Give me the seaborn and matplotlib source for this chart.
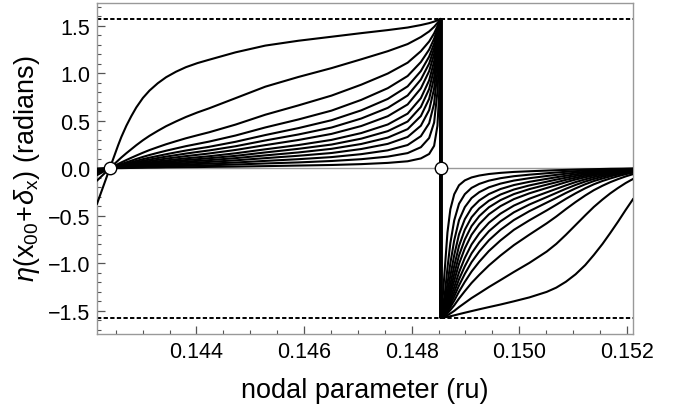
import numpy as np
import pandas as pd
import matplotlib
matplotlib.use('Agg')
import matplotlib.pyplot as plt
import seaborn as sns
from matplotlib.ticker import MultipleLocator

# landmarks
zero_x = 0.14239
pole_x = 0.14854
hp = np.pi / 2

# left branch: shared x grid, one row of eta per curve (top curve first)
left_x = [0.142150, 0.142390, 0.142544, 0.142605, 0.142698, 0.142790, 0.142882, 0.143005,
          0.143128, 0.143282, 0.143436, 0.143620, 0.143805, 0.144020, 0.144235, 0.144727,
          0.145281, 0.145896, 0.146511, 0.147064, 0.147556, 0.147925, 0.148171, 0.148325,
          0.148417, 0.148479, 0.148509, 0.148528, 0.148540]
left_curves = [
    [-0.377, 0, 0.241, 0.330, 0.448, 0.549, 0.640, 0.740, 0.818, 0.895, 0.958, 1.016, 1.064, 1.107, 1.142, 1.220, 1.291, 1.342, 1.384, 1.422, 1.454, 1.481, 1.507, 1.527, 1.543, 1.557, 1.564, 1.568, hp],
    [-0.131, 0, 0.082, 0.114, 0.159, 0.201, 0.243, 0.295, 0.342, 0.394, 0.443, 0.493, 0.540, 0.588, 0.631, 0.738, 0.859, 0.961, 1.054, 1.147, 1.232, 1.307, 1.381, 1.440, 1.488, 1.529, 1.550, 1.563, hp],
    [-0.072, 0, 0.045, 0.062, 0.087, 0.111, 0.134, 0.164, 0.192, 0.223, 0.253, 0.285, 0.316, 0.348, 0.379, 0.460, 0.564, 0.662, 0.765, 0.880, 0.997, 1.111, 1.232, 1.334, 1.419, 1.495, 1.533, 1.556, hp],
    [-0.052, 0, 0.032, 0.045, 0.063, 0.080, 0.098, 0.120, 0.140, 0.163, 0.185, 0.209, 0.233, 0.257, 0.281, 0.345, 0.430, 0.514, 0.607, 0.720, 0.843, 0.971, 1.118, 1.249, 1.363, 1.466, 1.518, 1.550, hp],
    [-0.042, 0, 0.026, 0.036, 0.050, 0.064, 0.078, 0.096, 0.112, 0.130, 0.148, 0.168, 0.187, 0.207, 0.226, 0.279, 0.350, 0.423, 0.506, 0.610, 0.730, 0.862, 1.023, 1.175, 1.312, 1.439, 1.505, 1.544, hp],
    [-0.034, 0, 0.021, 0.030, 0.042, 0.053, 0.064, 0.079, 0.092, 0.108, 0.123, 0.139, 0.155, 0.172, 0.188, 0.232, 0.293, 0.356, 0.429, 0.524, 0.636, 0.766, 0.934, 1.102, 1.261, 1.412, 1.491, 1.539, hp],
    [-0.028, 0, 0.018, 0.025, 0.034, 0.044, 0.053, 0.065, 0.076, 0.089, 0.102, 0.115, 0.128, 0.142, 0.156, 0.193, 0.244, 0.298, 0.362, 0.445, 0.548, 0.672, 0.841, 1.022, 1.201, 1.379, 1.474, 1.532, hp],
    [-0.023, 0, 0.014, 0.020, 0.028, 0.036, 0.043, 0.053, 0.062, 0.073, 0.083, 0.094, 0.105, 0.116, 0.127, 0.158, 0.200, 0.245, 0.299, 0.371, 0.461, 0.575, 0.738, 0.926, 1.126, 1.337, 1.452, 1.523, hp],
    [-0.019, 0, 0.012, 0.017, 0.023, 0.030, 0.036, 0.044, 0.052, 0.060, 0.069, 0.078, 0.087, 0.096, 0.106, 0.131, 0.167, 0.205, 0.250, 0.312, 0.391, 0.492, 0.646, 0.834, 1.049, 1.291, 1.428, 1.513, hp],
    [-0.016, 0, 0.010, 0.013, 0.019, 0.024, 0.029, 0.036, 0.042, 0.049, 0.056, 0.063, 0.071, 0.078, 0.086, 0.107, 0.136, 0.167, 0.205, 0.256, 0.323, 0.412, 0.550, 0.731, 0.956, 1.231, 1.396, 1.500, hp],
    [-0.012, 0, 0.008, 0.011, 0.015, 0.019, 0.023, 0.028, 0.033, 0.038, 0.044, 0.050, 0.055, 0.062, 0.067, 0.084, 0.107, 0.132, 0.161, 0.203, 0.257, 0.330, 0.448, 0.613, 0.838, 1.148, 1.349, 1.481, hp],
    [-0.009, 0, 0.006, 0.008, 0.011, 0.014, 0.017, 0.021, 0.024, 0.028, 0.032, 0.036, 0.041, 0.045, 0.049, 0.061, 0.078, 0.096, 0.118, 0.149, 0.189, 0.245, 0.338, 0.474, 0.681, 1.018, 1.271, 1.448, hp],
    [-0.006, 0, 0.004, 0.005, 0.007, 0.009, 0.011, 0.013, 0.016, 0.018, 0.021, 0.023, 0.026, 0.029, 0.032, 0.040, 0.051, 0.062, 0.077, 0.096, 0.123, 0.160, 0.222, 0.319, 0.481, 0.807, 1.124, 1.382, hp],
    [-0.003, 0, 0.002, 0.002, 0.003, 0.004, 0.005, 0.006, 0.007, 0.008, 0.010, 0.011, 0.012, 0.013, 0.015, 0.018, 0.023, 0.029, 0.035, 0.044, 0.057, 0.074, 0.104, 0.151, 0.236, 0.448, 0.765, 1.176, hp],
]

# right branch, same curve order as the left (so each line runs through the jump)
right_x = [0.148540, 0.148558, 0.148583, 0.148619, 0.148665, 0.148719, 0.148791, 0.148880,
           0.148988, 0.149113, 0.149256, 0.149435, 0.149650, 0.149900, 0.150187, 0.150509,
           0.150688, 0.150867, 0.151046, 0.151225, 0.151386, 0.151547, 0.151690, 0.151834,
           0.151977, 0.152120]
right_curves = [
    [-hp, -1.570, -1.569, -1.567, -1.563, -1.556, -1.547, -1.534, -1.519, -1.502, -1.483, -1.460, -1.433, -1.399, -1.358, -1.300, -1.255, -1.193, -1.115, -1.018, -0.911, -0.795, -0.681, -0.562, -0.438, -0.319],
    [-hp, -1.569, -1.566, -1.559, -1.546, -1.527, -1.500, -1.460, -1.416, -1.365, -1.314, -1.249, -1.176, -1.090, -0.995, -0.876, -0.795, -0.699, -0.597, -0.495, -0.406, -0.328, -0.264, -0.207, -0.155, -0.110],
    [-hp, -1.567, -1.561, -1.549, -1.525, -1.491, -1.441, -1.370, -1.292, -1.206, -1.121, -1.022, -0.918, -0.808, -0.698, -0.579, -0.507, -0.429, -0.355, -0.286, -0.230, -0.183, -0.146, -0.114, -0.085, -0.060],
    [-hp, -1.566, -1.558, -1.541, -1.508, -1.461, -1.392, -1.297, -1.194, -1.086, -0.983, -0.870, -0.759, -0.647, -0.547, -0.443, -0.383, -0.321, -0.263, -0.210, -0.168, -0.133, -0.107, -0.083, -0.062, -0.044],
    [-hp, -1.565, -1.554, -1.533, -1.492, -1.434, -1.348, -1.232, -1.110, -0.987, -0.875, -0.757, -0.647, -0.544, -0.451, -0.361, -0.311, -0.259, -0.211, -0.168, -0.134, -0.107, -0.085, -0.066, -0.049, -0.035],
    [-hp, -1.563, -1.551, -1.525, -1.475, -1.405, -1.303, -1.167, -1.030, -0.895, -0.779, -0.662, -0.558, -0.463, -0.381, -0.303, -0.259, -0.215, -0.175, -0.139, -0.112, -0.088, -0.070, -0.055, -0.041, -0.029],
    [-hp, -1.562, -1.546, -1.516, -1.455, -1.371, -1.250, -1.094, -0.942, -0.801, -0.685, -0.573, -0.477, -0.392, -0.320, -0.253, -0.216, -0.179, -0.145, -0.116, -0.092, -0.073, -0.058, -0.045, -0.034, -0.024],
    [-hp, -1.560, -1.541, -1.503, -1.429, -1.327, -1.183, -1.005, -0.842, -0.699, -0.587, -0.484, -0.398, -0.324, -0.263, -0.207, -0.177, -0.146, -0.118, -0.094, -0.075, -0.059, -0.047, -0.037, -0.027, -0.019],
    [-hp, -1.558, -1.535, -1.489, -1.400, -1.279, -1.113, -0.917, -0.748, -0.608, -0.503, -0.410, -0.335, -0.271, -0.219, -0.172, -0.147, -0.121, -0.099, -0.078, -0.062, -0.049, -0.039, -0.030, -0.023, -0.016],
    [-hp, -1.555, -1.526, -1.470, -1.362, -1.218, -1.027, -0.816, -0.646, -0.515, -0.421, -0.341, -0.276, -0.223, -0.180, -0.141, -0.119, -0.099, -0.080, -0.064, -0.051, -0.040, -0.032, -0.025, -0.018, -0.013],
    [-hp, -1.550, -1.514, -1.443, -1.307, -1.131, -0.913, -0.694, -0.535, -0.418, -0.338, -0.271, -0.218, -0.176, -0.142, -0.111, -0.094, -0.078, -0.063, -0.050, -0.040, -0.032, -0.025, -0.019, -0.014, -0.010],
    [-hp, -1.542, -1.493, -1.396, -1.216, -0.999, -0.757, -0.546, -0.408, -0.313, -0.251, -0.200, -0.161, -0.129, -0.104, -0.081, -0.069, -0.057, -0.046, -0.037, -0.029, -0.023, -0.018, -0.014, -0.011, -0.007],
    [-hp, -1.527, -1.450, -1.304, -1.049, -0.786, -0.547, -0.373, -0.272, -0.206, -0.164, -0.130, -0.104, -0.083, -0.067, -0.052, -0.044, -0.037, -0.030, -0.024, -0.019, -0.015, -0.012, -0.009, -0.007, -0.005],
    [-hp, -1.475, -1.314, -1.034, -0.675, -0.431, -0.273, -0.178, -0.127, -0.096, -0.076, -0.060, -0.048, -0.038, -0.031, -0.024, -0.020, -0.017, -0.014, -0.011, -0.009, -0.007, -0.005, -0.004, -0.003, -0.002],
]

for lc, rc in zip(left_curves, right_curves):
    assert len(lc) == len(left_x) and len(rc) == len(right_x)

rows = []
for i, (lc, rc) in enumerate(zip(left_curves, right_curves)):
    for x, y in zip(left_x + right_x, lc + rc):
        rows.append({'curve': i, 'x': x, 'eta': y})
df = pd.DataFrame(rows)

sns.set_style('white')
plt.rcParams['font.family'] = ['Liberation Sans', 'DejaVu Sans']
plt.rcParams['mathtext.fontset'] = 'custom'
plt.rcParams['mathtext.rm'] = 'Liberation Sans'
plt.rcParams['mathtext.it'] = 'Liberation Sans:italic'

fig = plt.figure(figsize=(6.97, 4.14), dpi=100)
ax = fig.add_axes([0.139, 0.1915, 0.7697, 0.8])

ax.axhline(0, color='#999999', lw=1.0, zorder=1)
for yy in (hp, -hp):
    ax.axhline(yy, color='black', lw=1.4, ls=(0, (2.2, 1.2)), zorder=2)

sns.lineplot(data=df, x='x', y='eta', units='curve', estimator=None, sort=False,
             color='black', lw=1.5, ax=ax, zorder=3)
# the jump at the pole is drawn heavier in the original
ax.vlines(pole_x, -hp, hp, color='black', lw=2.8, zorder=3)

ax.scatter([zero_x, pole_x], [0, 0], s=80, facecolor='white', edgecolor='black',
           linewidth=1.0, zorder=5)

ax.set_xlim(0.14215, 0.15212)
ax.set_ylim(-1.74, 1.744)
ax.xaxis.set_minor_locator(MultipleLocator(0.0005))
ax.yaxis.set_minor_locator(MultipleLocator(0.1))
ax.set_xticks([0.144, 0.146, 0.148, 0.150, 0.152])
ax.set_xticklabels(['0.144', '0.146', '0.148', '0.150', '0.152'])
ax.set_yticks([-1.5, -1.0, -0.5, 0.0, 0.5, 1.0, 1.5])
ax.set_yticklabels(['\u22121.5', '\u22121.0', '\u22120.5', '0.0', '0.5', '1.0', '1.5'])
ax.tick_params(which='both', direction='in', color='#555555', labelsize=15.5,
               labelcolor='black', bottom=True, left=True, top=False, right=False, pad=5)
ax.tick_params(which='major', length=5.5, width=0.9)
ax.tick_params(which='minor', length=3, width=0.8)
for s in ax.spines.values():
    s.set_color('#999999')
    s.set_linewidth(1.0)

ax.set_xlabel('nodal parameter (ru)', fontsize=19.5, labelpad=11, color='black')
ax.set_ylabel(r'$\eta(\mathrm{x}_{00}\!+\!\delta_{\mathrm{x}})$ (radians)', fontsize=19.5,
              labelpad=4, color='black')

fig.savefig('out.png', dpi=100)
